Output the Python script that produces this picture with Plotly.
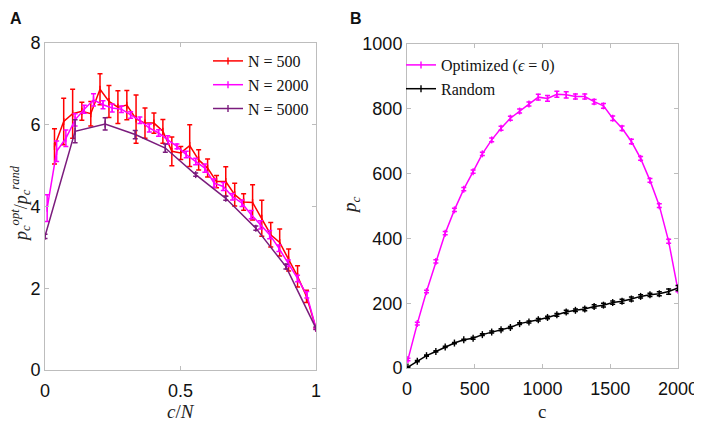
import plotly.graph_objects as go

# ---------------- Panel A data ----------------
x_500 = [0.035, 0.069, 0.102, 0.136, 0.169, 0.203, 0.236, 0.269, 0.302, 0.336,
         0.369, 0.402, 0.435, 0.468, 0.501, 0.534, 0.567, 0.600, 0.633, 0.667,
         0.700, 0.733, 0.766, 0.800, 0.833, 0.866, 0.899, 0.932, 0.965, 1.0]
y_500 = [5.47, 6.08, 6.27, 6.33, 6.27, 6.87, 6.57, 6.43, 6.48, 6.14,
         6.04, 6.04, 5.84, 5.35, 5.31, 5.49, 5.14, 4.94, 4.61, 4.61,
         4.29, 4.11, 4.10, 3.71, 3.31, 3.12, 2.69, 2.29, 1.80, 1.02]
e_500 = [0.43, 0.57, 0.60, 0.22, 0.30, 0.38, 0.39, 0.40, 0.36, 0.59,
         0.37, 0.25, 0.29, 0.35, 0.16, 0.51, 0.25, 0.22, 0.15, 0.36,
         0.28, 0.20, 0.43, 0.44, 0.30, 0.33, 0.27, 0.26, 0.15, 0.02]

x_2000 = [0.008, 0.043, 0.077, 0.111, 0.145, 0.179, 0.214, 0.248, 0.282, 0.316,
          0.350, 0.385, 0.419, 0.453, 0.487, 0.521, 0.556, 0.590, 0.624, 0.658,
          0.692, 0.727, 0.761, 0.795, 0.829, 0.863, 0.898, 0.932, 0.966, 1.0]
y_2000 = [3.96, 5.35, 5.67, 6.12, 6.38, 6.61, 6.49, 6.41, 6.38, 6.24,
          6.11, 5.92, 5.80, 5.63, 5.47, 5.27, 5.10, 4.94, 4.57, 4.49,
          4.24, 4.08, 3.80, 3.55, 3.31, 2.98, 2.61, 2.24, 1.84, 1.02]
e_2000 = [0.33, 0.25, 0.20, 0.15, 0.10, 0.15, 0.10, 0.10, 0.08, 0.08,
          0.08, 0.10, 0.08, 0.10, 0.06, 0.08, 0.08, 0.10, 0.10, 0.10,
          0.08, 0.08, 0.10, 0.10, 0.10, 0.08, 0.08, 0.08, 0.08, 0.02]

x_5000 = [0.0, 0.111, 0.222, 0.333, 0.444, 0.556, 0.667, 0.778, 0.889, 1.0]
y_5000 = [3.27, 5.84, 6.02, 5.76, 5.43, 4.78, 4.20, 3.47, 2.53, 1.02]
e_5000 = [0.05, 0.28, 0.15, 0.10, 0.10, 0.04, 0.05, 0.05, 0.06, 0.03]

# ---------------- Panel B data ----------------
c_vals = [7, 76, 144, 213, 282, 350, 419, 488, 556, 625,
          694, 763, 831, 900, 969, 1037, 1106, 1175, 1243, 1312,
          1381, 1450, 1518, 1587, 1656, 1724, 1793, 1862, 1931, 2000]
p_opt = [26, 137, 236, 329, 416, 488, 552, 606, 661, 704,
         740, 771, 793, 815, 836, 832, 845, 843, 838, 838,
         822, 809, 771, 740, 699, 647, 579, 501, 391, 240]
e_opt = [4, 4, 4, 5, 5, 5, 5, 5, 5, 6,
         6, 6, 6, 6, 9, 9, 9, 10, 8, 8,
         7, 7, 7, 7, 7, 6, 6, 6, 6, 5]
p_rand = [3, 21, 38, 51, 65, 77, 87, 92, 103, 111,
          118, 125, 137, 142, 149, 156, 164, 173, 178, 182,
          190, 194, 202, 206, 213, 221, 226, 229, 236, 247]
e_rand = [1, 2, 2, 2, 2, 2, 2, 3, 3, 3,
          3, 3, 3, 3, 4, 4, 4, 5, 4, 5,
          5, 6, 5, 6, 6, 5, 5, 6, 8, 8]

RED = "#FF0000"
MAG = "#FF00FF"
PUR = "#7B1C7D"
BLK = "#000000"

fig = go.Figure()


def add(x, y, e, color, name, xa, ya, legend):
    fig.add_trace(go.Scatter(
        x=x, y=y, name=name, mode="lines+markers",
        line=dict(color=color, width=1.5),
        marker=dict(symbol="line-ns", size=5, line=dict(color=color, width=1.4)),
        error_y=dict(type="data", array=e, visible=True, color=color,
                     thickness=1.5, width=2.5),
        xaxis=xa, yaxis=ya, legend=legend,
    ))


add(x_500, y_500, e_500, RED, "N = 500", "x", "y", "legend")
add(x_2000, y_2000, e_2000, MAG, "N = 2000", "x", "y", "legend")
add(x_5000, y_5000, e_5000, PUR, "N = 5000", "x", "y", "legend")
add(c_vals, p_opt, e_opt, MAG, "Optimized (<i>ϵ</i> = 0)", "x2", "y2", "legend2")
add(c_vals, p_rand, e_rand, BLK, "Random", "x2", "y2", "legend2")

# figure sits inside the page's 8px body margin (left/top)
OFF = 8
W, H = 702 - OFF, 425 - OFF


def px(x):
    return (x - OFF) / W


def py(y):
    return 1 - (y - OFF) / H


axis_common = dict(
    showline=True, linecolor="#BDBDBD", linewidth=1, mirror="ticks",
    ticks="inside", ticklen=4, tickcolor="#BDBDBD", showgrid=False,
    zeroline=False, automargin=False, ticklabeloverflow="allow",
    tickfont=dict(family="Liberation Sans", size=18, color="#111111"),
)
serif = "Liberation Serif"
title_font = dict(family=serif, size=19, color="#222")


def label(text, x, y, angle=0, font=title_font):
    return dict(text=text, x=px(x), y=py(y), xref="paper", yref="paper",
                xanchor="center", yanchor="middle", showarrow=False,
                textangle=angle, font=font)


fig.update_layout(
    width=W, height=H, margin=dict(l=0, r=0, t=0, b=0, autoexpand=False),
    paper_bgcolor="white", plot_bgcolor="white",
    xaxis=dict(domain=[px(45), px(316)], range=[0, 1], tickvals=[0, 0.5, 1],
               ticktext=["0", "0.5", "1"], anchor="y", ticklabelstandoff=4,
               **axis_common),
    yaxis=dict(domain=[py(370), py(43)], range=[0, 8], tickvals=[0, 2, 4, 6, 8],
               anchor="x", **axis_common),
    xaxis2=dict(domain=[px(407), px(678)], range=[0, 2000], tickvals=[0, 500, 1000, 1500, 2000],
                anchor="y2", ticklabelstandoff=4, **axis_common),
    yaxis2=dict(domain=[py(368), py(44)], range=[0, 1000],
                tickvals=[0, 200, 400, 600, 800, 1000], anchor="x2",
                **axis_common),
    legend=dict(x=px(314), xanchor="right", y=py(44), yanchor="top",
                bgcolor="rgba(0,0,0,0)", borderwidth=0,
                font=dict(family=serif, size=16, color="#111"),
                itemwidth=30, tracegroupgap=0),
    legend2=dict(x=px(401), xanchor="left", y=py(48), yanchor="top",
                 bgcolor="rgba(0,0,0,0)", borderwidth=0,
                 font=dict(family=serif, size=16, color="#111"),
                 itemwidth=30, tracegroupgap=0),
    showlegend=True,
    annotations=[
        dict(text="<b>A</b>", x=px(8), y=py(8), xref="paper", yref="paper",
             xanchor="left", yanchor="top", showarrow=False,
             font=dict(family="Liberation Sans", size=16, color="#111")),
        dict(text="<b>B</b>", x=px(348), y=py(8), xref="paper", yref="paper",
             xanchor="left", yanchor="top", showarrow=False,
             font=dict(family="Liberation Sans", size=16, color="#111")),
        label("<i>c</i>/<i>N</i>", 181, 411),
        label("c", 542, 411),
        label("<i>p</i><sub><i>c</i></sub><sup><i>opt</i></sup>/<i>p</i><sub><i>c</i></sub><sup><i>rand</i></sup>",
              21, 204, angle=-90, font=dict(family=serif, size=18, color="#222")),
        label("<i>p</i><sub><i>c</i></sub>", 351, 205, angle=-90),
    ],
)

fig.write_html("out.html")
